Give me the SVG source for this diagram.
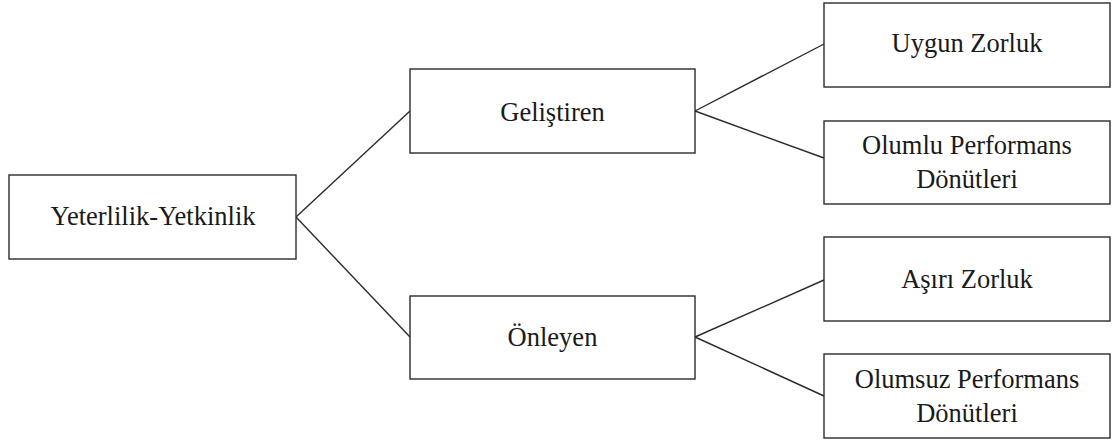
<svg xmlns="http://www.w3.org/2000/svg" width="1114" height="443" viewBox="0 0 1114 443">
  <style>
    .box { fill: #ffffff; stroke: #2b2b2b; stroke-width: 1.4; }
    .lbl { font-family: "Liberation Serif", "Times New Roman", serif; font-size: 26.5px; fill: #1a1a1a; text-anchor: middle; }
    .link { stroke: #2b2b2b; stroke-width: 1.4; fill: none; }
  </style>
  <rect width="1114" height="443" fill="#ffffff"/>

  <!-- connectors -->
  <g id="connectors">
    <line class="link" x1="296" y1="217" x2="410" y2="111"/>
    <line class="link" x1="296" y1="217" x2="410" y2="337"/>
    <line class="link" x1="695" y1="111" x2="824" y2="44"/>
    <line class="link" x1="695" y1="111" x2="824" y2="158"/>
    <line class="link" x1="695" y1="337" x2="824" y2="280"/>
    <line class="link" x1="695" y1="337" x2="824" y2="396"/>
  </g>

  <g id="yeterlilik">
    <rect class="box" x="9" y="175" width="287" height="84"/>
    <text class="lbl" x="153" y="225">Yeterlilik-Yetkinlik</text>
  </g>

  <g id="gelistiren">
    <rect class="box" x="410" y="69" width="285" height="84"/>
    <text class="lbl" x="552.5" y="121">Geliştiren</text>
  </g>

  <g id="onleyen">
    <rect class="box" x="410" y="296" width="285" height="83"/>
    <text class="lbl" x="552.5" y="346">Önleyen</text>
  </g>

  <g id="uygun-zorluk">
    <rect class="box" x="824" y="3" width="286" height="84"/>
    <text class="lbl" x="967" y="52">Uygun Zorluk</text>
  </g>

  <g id="olumlu-performans">
    <rect class="box" x="824" y="121" width="286" height="83"/>
    <text class="lbl" x="967" y="154">Olumlu Performans</text>
    <text class="lbl" x="967" y="188">Dönütleri</text>
  </g>

  <g id="asiri-zorluk">
    <rect class="box" x="824" y="237" width="286" height="84"/>
    <text class="lbl" x="967" y="288">Aşırı Zorluk</text>
  </g>

  <g id="olumsuz-performans">
    <rect class="box" x="824" y="354" width="286" height="84"/>
    <text class="lbl" x="967" y="388">Olumsuz Performans</text>
    <text class="lbl" x="967" y="422">Dönütleri</text>
  </g>
</svg>
